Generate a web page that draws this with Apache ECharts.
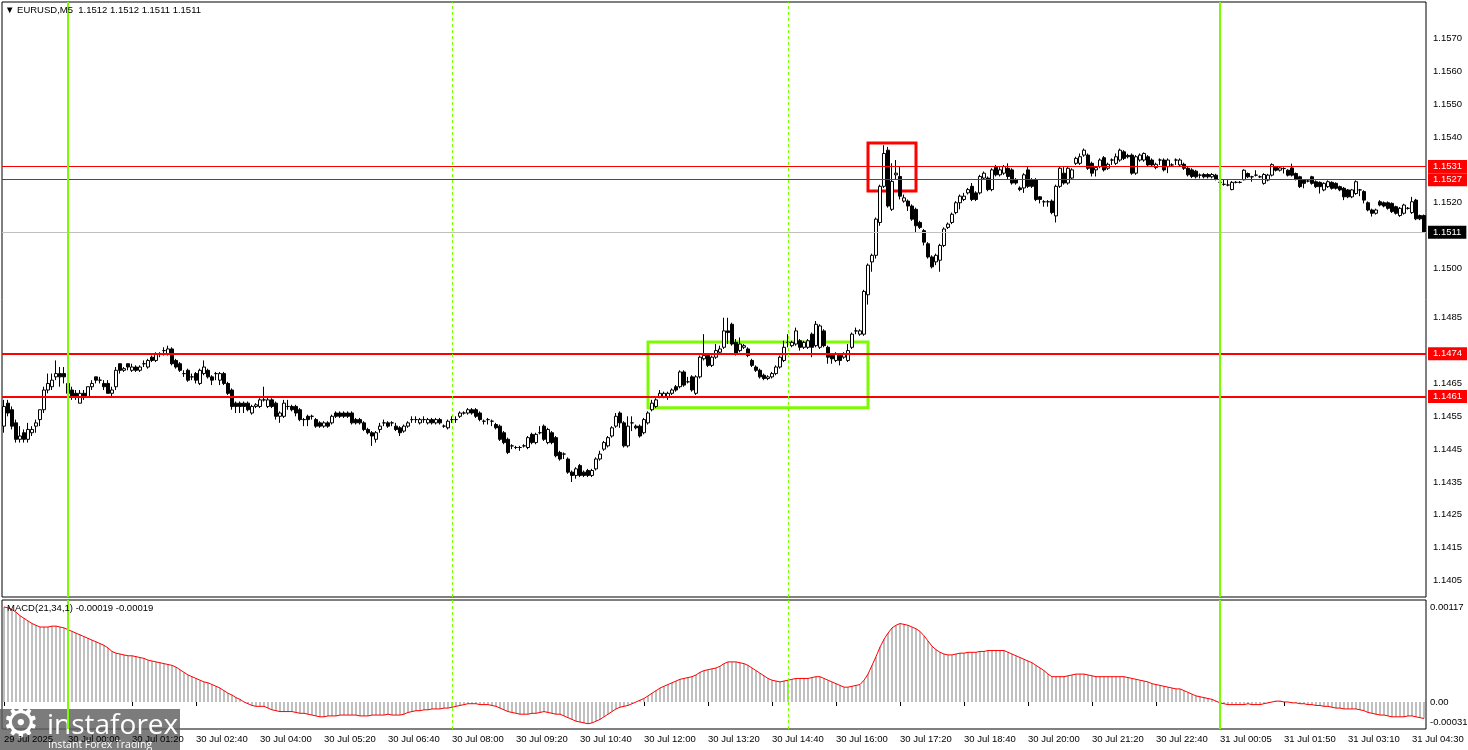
<!DOCTYPE html>
<html>
<head>
<meta charset="utf-8">
<title>EURUSD,M5</title>
<script src="https://cdn.jsdelivr.net/npm/echarts@6/dist/echarts.min.js"></script>
<style>
  html, body { margin: 0; padding: 0; background: #fff; }
  #chart { width: 1468px; height: 750px; }
</style>
</head>
<body>
<div id="chart"></div>
<script>
// EURUSD M5, 29 Jul 22:40 .. 31 Jul 04:45
// 每根K线: [open, close, low, high]
var candles = [
  // 0
  [1.1452,1.1458,1.1450,1.1460],[1.1459,1.1456,1.1455,1.1460],[1.1457,1.1452,1.1451,1.1458],[1.1453,1.1448,1.1447,1.1454],[1.1448,1.1449,1.1447,1.1452],
  [1.1450,1.1448,1.1447,1.1451],[1.1448,1.1451,1.1447,1.1453],[1.1450,1.1451,1.1449,1.1452],[1.1452,1.1453,1.1450,1.1454],[1.1454,1.1457,1.1452,1.1457],
  // 10
  [1.1457,1.1463,1.1456,1.1464],[1.1463,1.1465,1.1462,1.1468],[1.1464,1.1466,1.1463,1.1468],[1.1467,1.1468,1.1466,1.1472],[1.1468,1.1467,1.1464,1.1470],
  [1.1468,1.1467,1.1465,1.1470],[1.1465,1.1462,1.1460,1.1467],[1.1463,1.1461,1.1460,1.1464],[1.1462,1.1461,1.1460,1.1463],[1.1459,1.1462,1.1459,1.1463],
  // 20
  [1.1462,1.1461,1.1460,1.1463],[1.1461,1.1464,1.1461,1.1464],[1.1464,1.1465,1.1463,1.1466],[1.1467,1.1466,1.1465,1.1467],[1.1466,1.1466,1.1465,1.1467],
  [1.1465,1.1464,1.1463,1.1466],[1.1465,1.1462,1.1462,1.1466],[1.1462,1.1463,1.1461,1.1464],[1.1464,1.1469,1.1463,1.1470],[1.1471,1.1469,1.1468,1.1471],
  // 30
  [1.1469,1.14695,1.14685,1.1470],[1.1471,1.1470,1.1469,1.1471],[1.1469,1.1470,1.14685,1.1471],[1.1470,1.1469,1.14685,1.14705],[1.1469,1.1470,1.14685,1.14705],
  [1.1471,1.1471,1.1470,1.1472],[1.1470,1.1472,1.14695,1.14725],[1.1473,1.1472,1.14715,1.14735],[1.1472,1.1474,1.14715,1.14745],[1.1474,1.1474,1.1473,1.14745],
  // 40
  [1.1475,1.1475,1.14735,1.1476],[1.1474,1.14755,1.14735,1.14765],[1.14755,1.1471,1.14705,1.1476],[1.1472,1.1470,1.14695,1.14725],[1.1471,1.1469,1.14685,1.14715],
  [1.1468,1.1468,1.1467,1.1469],[1.1469,1.1466,1.14655,1.14695],[1.1467,1.1467,1.1466,1.1468],[1.1468,1.1466,1.1465,1.14685],[1.1465,1.1469,1.14645,1.14695],
  // 50
  [1.1468,1.1470,1.14675,1.1472],[1.1469,1.1467,1.14665,1.14695],[1.1467,1.1466,1.14645,1.14675],[1.1468,1.1468,1.1466,1.14685],[1.1466,1.1468,1.14645,1.14685],
  [1.1468,1.1465,1.14645,1.14685],[1.1465,1.1462,1.14615,1.14655],[1.1463,1.1458,1.1457,1.14635],[1.1459,1.1458,1.1456,1.14595],[1.1459,1.1458,1.1456,1.14595],
  // 60
  [1.1459,1.1458,1.1456,1.14595],[1.1459,1.1457,1.14565,1.14595],[1.1456,1.1458,1.14555,1.14585],[1.1458,1.14585,1.14575,1.1459],[1.1458,1.1460,1.14575,1.14605],
  [1.1460,1.1460,1.14595,1.1464],[1.1458,1.1460,1.14575,1.1461],[1.1460,1.1458,1.14575,1.14605],[1.1459,1.1455,1.1454,1.14595],[1.1455,1.1456,1.1453,1.14565],
  // 70
  [1.1455,1.1459,1.14545,1.1460],[1.1458,1.1458,1.1457,1.1460],[1.1458,1.1457,1.14565,1.14585],[1.1458,1.1456,1.1455,1.14585],[1.1457,1.1454,1.14535,1.14575],
  [1.1454,1.1454,1.1452,1.14545],[1.1455,1.1454,1.1452,1.14555],[1.1455,1.1455,1.1454,1.14555],[1.1454,1.1452,1.14515,1.14545],[1.1453,1.1452,1.14515,1.14535],
  // 80
  [1.1452,1.1453,1.14515,1.14535],[1.1453,1.1452,1.14515,1.14535],[1.1453,1.1455,1.14525,1.14555],[1.1456,1.1455,1.14545,1.14565],[1.1456,1.1455,1.14545,1.14565],
  [1.1456,1.1455,1.14545,1.14565],[1.1456,1.1455,1.14545,1.14565],[1.1456,1.1453,1.14525,1.14565],[1.1454,1.1453,1.14525,1.14545],[1.1454,1.1453,1.14525,1.14545],
  // 90
  [1.1453,1.1451,1.14505,1.14535],[1.1451,1.1450,1.14495,1.14515],[1.1450,1.1449,1.1446,1.14505],[1.1448,1.1450,1.1447,1.14505],[1.1451,1.1452,1.1450,1.1453],
  [1.1453,1.1453,1.1452,1.1454],[1.1453,1.1452,1.14515,1.14535],[1.1453,1.1453,1.1452,1.14535],[1.1452,1.1451,1.14505,1.1453],[1.14515,1.1450,1.1449,1.1452],
  // 100
  [1.14505,1.1452,1.1450,1.14525],[1.1452,1.1453,1.14515,1.14535],[1.1454,1.1454,1.1453,1.1455],[1.1454,1.1454,1.1453,1.1455],[1.1453,1.1454,1.14525,1.14545],
  [1.1454,1.1454,1.1453,1.1455],[1.1453,1.1454,1.14525,1.14545],[1.1454,1.1453,1.14525,1.14545],[1.1453,1.1454,1.14525,1.14545],[1.1454,1.1453,1.14525,1.14545],
  // 110
  [1.1452,1.1452,1.14515,1.14525],[1.14515,1.14535,1.1451,1.1454],[1.1454,1.1454,1.1453,1.1455],[1.1454,1.1454,1.1453,1.1455],[1.1455,1.1456,1.14545,1.14565],
  [1.1456,1.1456,1.14555,1.14565],[1.1456,1.1457,1.14555,1.14575],[1.1457,1.1456,1.14555,1.14575],[1.1457,1.1455,1.14545,1.14575],[1.1456,1.1454,1.14535,1.14565],
  // 120
  [1.14535,1.14535,1.14525,1.1454],[1.1454,1.1454,1.14525,1.14545],[1.14535,1.14535,1.1452,1.1454],[1.14525,1.14515,1.1451,1.1453],[1.1452,1.1448,1.14475,1.14525],
  [1.1450,1.1447,1.14465,1.14505],[1.1448,1.1444,1.14435,1.14485],[1.1446,1.1446,1.1445,1.14465],[1.14455,1.14455,1.1445,1.1446],[1.14455,1.14455,1.14445,1.1446],
  // 130
  [1.1446,1.1446,1.14455,1.14465],[1.14455,1.14485,1.1445,1.1449],[1.14495,1.1447,1.14465,1.1450],[1.1447,1.14495,1.14465,1.1450],[1.1450,1.1450,1.14495,1.1452],
  [1.1452,1.1448,1.14475,1.14525],[1.1447,1.1451,1.14465,1.14515],[1.1450,1.1447,1.14465,1.14505],[1.14485,1.1443,1.14425,1.1449],[1.1444,1.1442,1.14415,1.14445],
  // 140
  [1.14435,1.14435,1.1442,1.1444],[1.1442,1.1438,1.14375,1.14425],[1.1438,1.1437,1.1435,1.14385],[1.1437,1.1439,1.1436,1.14395],[1.1440,1.1437,1.14365,1.14405],
  [1.1438,1.1437,1.14365,1.14385],[1.14385,1.1437,1.14365,1.1439],[1.1437,1.14385,1.14365,1.1439],[1.1439,1.1442,1.14385,1.14425],[1.1442,1.14435,1.14415,1.14445],
  // 150
  [1.1445,1.1447,1.14445,1.14475],[1.1446,1.14485,1.14455,1.1449],[1.1449,1.14515,1.14485,1.1452],[1.1452,1.1455,1.14515,1.1456],[1.1456,1.1453,1.14515,1.14565],
  [1.1453,1.1446,1.14455,1.14535],[1.1446,1.1452,1.14455,1.1455],[1.1453,1.1453,1.14505,1.1455],[1.1452,1.14515,1.1451,1.14525],[1.1452,1.1449,1.14485,1.14525],
  // 160
  [1.1450,1.1454,1.14495,1.14545],[1.1453,1.1456,1.14525,1.14565],[1.1457,1.1459,1.14565,1.1460],[1.1458,1.1460,1.14575,1.14605],[1.1461,1.1462,1.14605,1.1463],
  [1.1461,1.1462,1.14605,1.14625],[1.1461,1.1462,1.1460,1.14625],[1.1462,1.1463,1.14615,1.14635],[1.1464,1.1463,1.14625,1.14645],[1.1464,1.14685,1.14635,1.1469],
  // 170
  [1.14685,1.14645,1.1464,1.1469],[1.14655,1.14655,1.1465,1.1467],[1.1467,1.1463,1.14625,1.14675],[1.1462,1.1467,1.14615,1.14675],[1.1467,1.1473,1.14665,1.14735],
  [1.14725,1.14735,1.1472,1.1480],[1.14735,1.14705,1.1470,1.1474],[1.14705,1.1473,1.1470,1.14735],[1.1473,1.1475,1.14725,1.1477],[1.14745,1.14755,1.1474,1.14765],
  // 180
  [1.1476,1.1481,1.14755,1.1485],[1.1481,1.14805,1.1477,1.1485],[1.1483,1.1477,1.14765,1.14835],[1.14775,1.1474,1.14735,1.14785],[1.1475,1.1477,1.14745,1.1479],
  [1.1476,1.14765,1.14755,1.1477],[1.14755,1.14735,1.1473,1.1476],[1.1472,1.14705,1.1470,1.14725],[1.1470,1.1469,1.14685,1.14705],[1.1469,1.1467,1.14665,1.14695],
  // 190
  [1.14675,1.14665,1.1466,1.1468],[1.14665,1.1467,1.1466,1.14675],[1.1467,1.1468,1.14665,1.14685],[1.1468,1.1470,1.14675,1.14705],[1.1470,1.1473,1.14695,1.14735],
  [1.1472,1.1476,1.14715,1.1478],[1.14775,1.14775,1.1476,1.1480],[1.14765,1.14775,1.1476,1.1478],[1.1477,1.1481,1.14765,1.1482],[1.1478,1.1476,1.1475,1.14785],
  // 200
  [1.1476,1.14775,1.14755,1.1478],[1.1476,1.1478,1.14755,1.14785],[1.1480,1.1476,1.1473,1.14805],[1.14765,1.1483,1.1476,1.1484],[1.1476,1.14825,1.14755,1.1483],
  [1.1481,1.14765,1.1476,1.14815],[1.1476,1.1473,1.1471,1.14765],[1.14735,1.14725,1.1471,1.1474],[1.1472,1.1474,1.14715,1.14745],[1.14735,1.1472,1.14705,1.1474],
  // 210
  [1.1473,1.1474,1.14725,1.14745],[1.1472,1.1475,1.14715,1.1477],[1.1476,1.1480,1.14755,1.14805],[1.1481,1.1481,1.1480,1.1482],[1.1480,1.1481,1.14795,1.14815],
  [1.1480,1.1493,1.14795,1.14935],[1.1492,1.1501,1.1489,1.15015],[1.1502,1.1504,1.1499,1.15045],[1.1504,1.1515,1.1503,1.15155],[1.1514,1.1525,1.1513,1.15255],
  // 220
  [1.1525,1.1535,1.15245,1.15375],[1.1536,1.1519,1.15185,1.1537],[1.1518,1.15265,1.15175,1.1532],[1.15285,1.1529,1.1527,1.1533],[1.1528,1.1522,1.1521,1.1531],
  [1.15205,1.15215,1.1520,1.15225],[1.15205,1.1519,1.15175,1.1521],[1.1519,1.1515,1.15145,1.15195],[1.1518,1.1513,1.1511,1.15185],[1.1514,1.15125,1.1512,1.15145],
  // 230
  [1.15115,1.1508,1.1507,1.1512],[1.15075,1.15035,1.1503,1.1508],[1.15035,1.15005,1.1500,1.1504],[1.1502,1.1504,1.1501,1.15045],[1.15025,1.1507,1.1499,1.15075],
  [1.1507,1.1512,1.15065,1.15125],[1.15125,1.15135,1.1512,1.1514],[1.1514,1.15165,1.15135,1.1517],[1.1517,1.1520,1.15165,1.15205],[1.1520,1.1522,1.1518,1.15225],
  // 240
  [1.1521,1.1522,1.15205,1.1523],[1.1523,1.1524,1.15225,1.15245],[1.1525,1.1521,1.15205,1.1526],[1.1523,1.1521,1.15205,1.15235],[1.1523,1.1528,1.15225,1.15285],
  [1.15275,1.1529,1.1527,1.15295],[1.15275,1.1524,1.15235,1.1528],[1.1524,1.1530,1.15235,1.15305],[1.1531,1.15285,1.1528,1.15315],[1.15285,1.1530,1.1528,1.1531],
  // 250
  [1.1529,1.1531,1.15285,1.15315],[1.15305,1.1528,1.1527,1.1532],[1.1530,1.1526,1.15255,1.15305],[1.1527,1.1526,1.15255,1.15275],[1.15245,1.1524,1.15235,1.1525],
  [1.15245,1.15285,1.1523,1.1529],[1.1530,1.1525,1.15245,1.1531],[1.1527,1.1525,1.15245,1.15275],[1.1527,1.1521,1.15205,1.15275],[1.15218,1.1521,1.15198,1.1522],
  // 260
  [1.15203,1.15203,1.15188,1.15208],[1.15203,1.15203,1.15188,1.15208],[1.15205,1.1517,1.15165,1.1521],[1.1516,1.1525,1.1514,1.15255],[1.1525,1.15305,1.15245,1.1531],
  [1.1529,1.1526,1.15255,1.1531],[1.1526,1.15305,1.15255,1.1531],[1.15275,1.1530,1.1527,1.15305],[1.1532,1.15335,1.15315,1.1534],[1.1532,1.1534,1.15315,1.1535],
  // 270
  [1.15345,1.1536,1.1534,1.15365],[1.15345,1.15305,1.1530,1.1535],[1.1532,1.1529,1.1528,1.15325],[1.1530,1.15307,1.1528,1.15312],[1.1531,1.1533,1.15305,1.15335],
  [1.15337,1.1530,1.15295,1.15342],[1.15305,1.15317,1.1530,1.15322],[1.1533,1.1533,1.15315,1.15335],[1.1532,1.1534,1.15315,1.1535],[1.1533,1.1536,1.15325,1.15365],
  // 280
  [1.15355,1.15335,1.1533,1.1536],[1.15344,1.1534,1.15335,1.15349],[1.15345,1.1529,1.15285,1.1535],[1.1529,1.1534,1.15285,1.15345],[1.1533,1.15345,1.15325,1.1535],
  [1.1533,1.1535,1.15325,1.15353],[1.1534,1.15315,1.1531,1.15345],[1.1533,1.15315,1.1531,1.15335],[1.15307,1.15317,1.15302,1.15322],[1.1533,1.1533,1.15315,1.15335],
  // 290
  [1.1533,1.1530,1.15295,1.15335],[1.1531,1.1533,1.1529,1.15335],[1.15315,1.15315,1.1531,1.1532],[1.1533,1.1533,1.15315,1.15335],[1.15315,1.1533,1.1531,1.15335],
  [1.15317,1.15305,1.1530,1.15322],[1.15305,1.15285,1.1528,1.1531],[1.1530,1.1528,1.15275,1.15305],[1.15296,1.15279,1.15274,1.1530],[1.15284,1.15284,1.15274,1.15289],
  // 300
  [1.15286,1.15279,1.15274,1.1529],[1.15286,1.15279,1.15274,1.1529],[1.15279,1.15286,1.15274,1.1529],[1.15284,1.15272,1.15268,1.15288],[1.15262,1.15262,1.15258,1.15275],
  [1.15256,1.15256,1.15252,1.1527],[1.15254,1.15254,1.1525,1.15269],[1.1524,1.15262,1.15238,1.15266],[1.15262,1.15262,1.15259,1.15266],[1.15262,1.15262,1.15259,1.15266],
  // 310
  [1.1527,1.15299,1.15268,1.15302],[1.15289,1.15279,1.15275,1.15292],[1.15279,1.15279,1.15264,1.15282],[1.15284,1.15284,1.1528,1.15299],[1.15279,1.15279,1.15275,1.15283],
  [1.15259,1.15286,1.15255,1.1529],[1.15269,1.15284,1.15265,1.15288],[1.15284,1.15316,1.1528,1.1532],[1.15309,1.15299,1.15295,1.15312],[1.15299,1.15306,1.15295,1.15309],
  // 320
  [1.15304,1.15304,1.15289,1.15308],[1.15299,1.15284,1.1528,1.15302],[1.15306,1.15284,1.1528,1.15319],[1.15289,1.15272,1.15268,1.15292],[1.15279,1.15249,1.15245,1.15282],
  [1.15269,1.15259,1.15244,1.15272],[1.15266,1.15266,1.15262,1.1527],[1.15279,1.15259,1.15255,1.15282],[1.15264,1.15249,1.15245,1.15268],[1.15262,1.15249,1.15228,1.15265],
  // 330
  [1.15239,1.15259,1.15235,1.15262],[1.15249,1.15264,1.15245,1.15268],[1.15262,1.15244,1.1524,1.15265],[1.15259,1.15244,1.1524,1.15262],[1.15249,1.15239,1.15235,1.15252],
  [1.15244,1.15218,1.15208,1.15248],[1.15239,1.15218,1.15214,1.15242],[1.15218,1.15239,1.15214,1.15242],[1.15228,1.15264,1.15224,1.15268],[1.15239,1.15239,1.1522,1.15242],
  // 340
  [1.15234,1.15208,1.15198,1.15238],[1.1520,1.15178,1.15174,1.15204],[1.15178,1.15168,1.15158,1.15182],[1.15168,1.15178,1.15164,1.15182],[1.15203,1.15193,1.15189,1.15208],
  [1.1520,1.1519,1.15186,1.15204],[1.1520,1.15183,1.15179,1.15204],[1.15198,1.15173,1.15169,1.15201],[1.15188,1.15168,1.15164,1.15191],[1.15161,1.15183,1.15157,1.15187],
  // 350
  [1.15168,1.15193,1.15164,1.15197],[1.15183,1.15183,1.15179,1.15187],[1.1517,1.15203,1.15166,1.15218],[1.15208,1.15151,1.15147,1.15212],[1.15161,1.15151,1.15147,1.15164],
  [1.15161,1.15111,1.15108,1.15164]
];

// MACD(21,34,1) 柱值
var macd = [
  0.00109,0.00108,0.00106,0.00103,0.00099,0.00096,0.00093,0.00090,0.00088,0.00086,
  0.00086,0.00086,0.00087,0.00087,0.00086,0.00085,0.00083,0.00081,0.00079,0.00077,
  0.00075,0.00073,0.00071,0.00069,0.00067,0.00065,0.00062,0.00058,0.00056,0.00055,
  0.00054,0.00053,0.00053,0.00052,0.00051,0.00050,0.00048,0.00047,0.00046,0.00045,
  0.00044,0.00043,0.00042,0.00040,0.00037,0.00034,0.00031,0.00029,0.00027,0.00025,
  0.00023,0.00022,0.00020,0.00018,0.00016,0.00013,0.00010,0.00008,0.00005,0.00003,
  0.00000,-0.00002,-0.00004,-0.00005,-0.00005,-0.00005,-0.00007,-0.00009,-0.00010,-0.00011,
  -0.00011,-0.00011,-0.00011,-0.00012,-0.00013,-0.00013,-0.00014,-0.00015,-0.00016,-0.00017,
  -0.00017,-0.00016,-0.00016,-0.00016,-0.00015,-0.00015,-0.00015,-0.00015,-0.00015,-0.00016,
  -0.00016,-0.00016,-0.00015,-0.00015,-0.00015,-0.00015,-0.00014,-0.00015,-0.00015,-0.00015,
  -0.00014,-0.00012,-0.00011,-0.00010,-0.00010,-0.00009,-0.00009,-0.00008,-0.00008,-0.00008,
  -0.00007,-0.00007,-0.00006,-0.00005,-0.00004,-0.00003,-0.00002,-0.00002,-0.00002,-0.00003,
  -0.00003,-0.00003,-0.00004,-0.00005,-0.00007,-0.00009,-0.00011,-0.00012,-0.00013,-0.00014,
  -0.00014,-0.00014,-0.00013,-0.00013,-0.00012,-0.00011,-0.00012,-0.00013,-0.00014,-0.00014,
  -0.00016,-0.00018,-0.00020,-0.00022,-0.00023,-0.00024,-0.00025,-0.00024,-0.00022,-0.00020,
  -0.00017,-0.00014,-0.00011,-0.00008,-0.00006,-0.00005,-0.00004,-0.00002,0.00000,0.00002,
  0.00004,0.00007,0.00010,0.00013,0.00016,0.00018,0.00020,0.00022,0.00024,0.00026,
  0.00027,0.00028,0.00029,0.00031,0.00034,0.00036,0.00037,0.00038,0.00039,0.00041,
  0.00044,0.00046,0.00046,0.00046,0.00045,0.00044,0.00042,0.00039,0.00036,0.00033,
  0.00030,0.00027,0.00025,0.00024,0.00023,0.00024,0.00025,0.00026,0.00027,0.00027,
  0.00027,0.00027,0.00028,0.00029,0.00029,0.00027,0.00025,0.00023,0.00021,0.00019,
  0.00017,0.00017,0.00018,0.00019,0.00020,0.00025,0.00032,0.00042,0.00052,0.00063,
  0.00072,0.00079,0.00085,0.00088,0.00090,0.00089,0.00088,0.00086,0.00084,0.00081,
  0.00076,0.00070,0.00064,0.00060,0.00057,0.00055,0.00054,0.00054,0.00055,0.00056,
  0.00056,0.00057,0.00057,0.00057,0.00058,0.00058,0.00059,0.00059,0.00059,0.00059,
  0.00059,0.00057,0.00055,0.00053,0.00051,0.00049,0.00047,0.00045,0.00042,0.00039,
  0.00036,0.00032,0.00029,0.00029,0.00029,0.00029,0.00030,0.00031,0.00032,0.00032,
  0.00032,0.00031,0.00030,0.00029,0.00029,0.00029,0.00029,0.00029,0.00029,0.00029,
  0.00029,0.00028,0.00027,0.00026,0.00025,0.00024,0.00023,0.00021,0.00020,0.00019,
  0.00018,0.00017,0.00016,0.00015,0.00015,0.00013,0.00011,0.00009,0.00007,0.00006,
  0.00005,0.00004,0.00003,0.00001,-0.00001,-0.00002,-0.00003,-0.00003,-0.00003,-0.00003,
  -0.00003,-0.00002,-0.00003,-0.00003,-0.00003,-0.00002,-0.00001,0.00000,0.00001,0.00001,
  0.00000,0.00000,-0.00001,-0.00001,-0.00002,-0.00002,-0.00003,-0.00003,-0.00004,-0.00004,
  -0.00005,-0.00005,-0.00006,-0.00007,-0.00007,-0.00008,-0.00008,-0.00008,-0.00008,-0.00009,
  -0.00010,-0.00012,-0.00013,-0.00014,-0.00015,-0.00015,-0.00016,-0.00017,-0.00017,-0.00017,
  -0.00017,-0.00016,-0.00016,-0.00017,-0.00018,-0.00019
];

// 时间轴标签, 每16根K线一个
var tickLabels = [
  "29 Jul 2025", "30 Jul 00:00", "30 Jul 01:20", "30 Jul 02:40", "30 Jul 04:00", "30 Jul 05:20",
  "30 Jul 06:40", "30 Jul 08:00", "30 Jul 09:20", "30 Jul 10:40", "30 Jul 12:00", "30 Jul 13:20",
  "30 Jul 14:40", "30 Jul 16:00", "30 Jul 17:20", "30 Jul 18:40", "30 Jul 20:00", "30 Jul 21:20",
  "30 Jul 22:40", "31 Jul 00:05", "31 Jul 01:50", "31 Jul 03:10", "31 Jul 04:30"
];
var tickStep = 16;

// 右侧价格刻度
var priceLabels = [1.1570, 1.1560, 1.1550, 1.1540, 1.1520, 1.1500, 1.1485,
                   1.1465, 1.1455, 1.1445, 1.1435, 1.1425, 1.1415, 1.1405];
var priceMin = 1.1400;
var priceMax = 1.15811;
var macdMin = -0.00031;
var macdMax = 0.00117;

// 水平价位线
var redLevels = [1.1531, 1.1527, 1.1474, 1.1461];
var redWidths = [1, 1, 2, 2];
var lastPrice = 1.1511;

// 竖线 (K线序号)
var dayLines = [16, 304];
var dashLines = [112, 196];

// 方框: [起始K线, 结束K线, 上沿, 下沿]
var greenBox = [161, 216, 1.14776, 1.14576];
var redBox = [216, 228, 1.15382, 1.15236];

var FONT = '"Liberation Sans", Arial, sans-serif';
var FS = 9.5;

var myChart = echarts.init(document.getElementById("chart"));

var cats = candles.map(function (c, i) { return String(i); });

var hLines = redLevels.map(function (v, k) {
  return {
    yAxis: v,
    lineStyle: { color: "#ff0000", width: redWidths[k], type: "solid", opacity: 1 },
    label: {
      show: true, position: "end", distance: 2, formatter: v.toFixed(4),
      color: "#fff", backgroundColor: "#ff0000", padding: [2, 5, 1, 5],
      fontSize: FS, fontFamily: FONT
    }
  };
});
hLines.push({
  yAxis: lastPrice,
  lineStyle: { color: "#c0c0c0", width: 1, type: "solid", opacity: 1 },
  label: {
    show: true, position: "end", distance: 2, formatter: lastPrice.toFixed(4),
    color: "#fff", backgroundColor: "#000", padding: [2, 5, 1, 5],
    fontSize: FS, fontFamily: FONT
  }
});

function vLines() {
  var arr = [];
  dayLines.forEach(function (i) {
    arr.push({ xAxis: i, lineStyle: { color: "#7cfc00", width: 2, type: "solid" }, label: { show: false } });
  });
  dashLines.forEach(function (i) {
    arr.push({ xAxis: i, lineStyle: { color: "#7cfc00", width: 1, type: [3, 3] }, label: { show: false } });
  });
  return arr;
}

function box(b, color) {
  return [{ xAxis: b[0], yAxis: b[2], itemStyle: { color: "rgba(0,0,0,0)", borderColor: color, borderWidth: 3 } },
          { xAxis: b[1], yAxis: b[3] }];
}

var option = {
  animation: false,
  backgroundColor: "#fff",
  title: [
    {
      text: "\u25BC EURUSD,M5  1.1512 1.1512 1.1511 1.1511",
      left: 5, top: 5, padding: 0,
      textStyle: { fontSize: FS, fontWeight: "normal", color: "#000", fontFamily: FONT }
    },
    {
      text: "MACD(21,34,1) -0.00019 -0.00019",
      left: 7, top: 603, padding: 0,
      textStyle: { fontSize: FS, fontWeight: "normal", color: "#000", fontFamily: FONT }
    }
  ],
  grid: [
    { left: 2, top: 2, width: 1424, height: 595, outerBoundsMode: "none", containLabel: false,
      show: true, borderColor: "#000", borderWidth: 1, backgroundColor: "#fff" },
    { left: 2, top: 600, width: 1424, height: 129, outerBoundsMode: "none", containLabel: false,
      show: true, borderColor: "#000", borderWidth: 1, backgroundColor: "#fff" }
  ],
  xAxis: [
    {
      type: "category", gridIndex: 0, data: cats, boundaryGap: true,
      axisLine: { show: false }, axisTick: { show: false }, axisLabel: { show: false }, splitLine: { show: false }
    },
    {
      type: "category", gridIndex: 1, data: cats, boundaryGap: true,
      axisLine: { show: false },
      axisTick: { show: true, interval: tickStep - 1, alignWithLabel: true, length: 4, lineStyle: { color: "#000" } },
      axisLabel: {
        interval: tickStep - 1, align: "left", margin: 5, color: "#000",
        fontSize: FS, fontFamily: FONT,
        formatter: function (v, idx) { return tickLabels[Math.round(idx / tickStep)] || ""; }
      },
      splitLine: { show: false }
    }
  ],
  yAxis: [
    {
      type: "value", gridIndex: 0, position: "right", scale: true,
      min: priceMin, max: priceMax, interval: 0.0005,
      axisLine: { show: false }, axisTick: { show: false }, splitLine: { show: false },
      axisLabel: {
        margin: 7, color: "#000", fontSize: FS, fontFamily: FONT,
        formatter: function (v) {
          for (var k = 0; k < priceLabels.length; k++) {
            if (Math.abs(priceLabels[k] - v) < 1e-6) return priceLabels[k].toFixed(4);
          }
          return "";
        }
      }
    },
    {
      type: "value", gridIndex: 1, position: "right",
      min: macdMin, max: macdMax, interval: 0.00001,
      axisLine: { show: false }, axisTick: { show: false }, splitLine: { show: false },
      axisLabel: {
        margin: 4, color: "#000", fontSize: FS, fontFamily: FONT,
        formatter: function (v) {
          var k = Math.round(v * 1e5);
          if (k === Math.round(macdMax * 1e5)) return "{t|" + macdMax.toFixed(5) + "}";
          if (k === 0) return "0.00";
          if (k === Math.round(macdMin * 1e5)) return "{b|" + macdMin.toFixed(5) + "}";
          return "";
        },
        rich: {
          t: { padding: [14, 0, 0, 0], fontSize: FS, color: "#000", fontFamily: FONT },
          b: { padding: [0, 0, 14, 0], fontSize: FS, color: "#000", fontFamily: FONT }
        }
      }
    }
  ],
  series: [
    {
      name: "EURUSD", type: "candlestick", xAxisIndex: 0, yAxisIndex: 0,
      data: candles, barWidth: 3,
      itemStyle: { color: "#fff", color0: "#000", borderColor: "#000", borderColor0: "#000", borderWidth: 1 },
      markLine: { silent: true, precision: 5, symbol: ["none", "none"], data: hLines.concat(vLines()) },
      markArea: { silent: true, data: [box(greenBox, "#7cfc00"), box(redBox, "#ff0000")] }
    },
    {
      name: "MACD", type: "bar", xAxisIndex: 1, yAxisIndex: 1,
      data: macd, barWidth: 2, itemStyle: { color: "#c0c0c0" },
      markLine: { silent: true, symbol: ["none", "none"], data: vLines() }
    },
    {
      name: "Signal", type: "line", xAxisIndex: 1, yAxisIndex: 1,
      data: macd, showSymbol: false, symbol: "none",
      lineStyle: { color: "#ff0000", width: 1 }
    }
  ],
  graphic: [
    {
      type: "group", left: 0, top: 705, z: 100,
      children: [
        { type: "rect", shape: { x: 0, y: 0, width: 180, height: 45 }, style: { fill: "rgba(95,95,95,0.82)" } },
        { type: "text", x: 2, y: -4, style: { text: "\u2699", font: '42px "DejaVu Sans"', fill: "#fff" } },
        { type: "text", x: 47, y: 3, style: { text: "instaforex", font: '28px "Open Sans"', fill: "#fff" } },
        { type: "text", x: 48, y: 31, style: { text: "Instant Forex Trading", font: '10.5px "Open Sans"', fill: "#fff" } }
      ]
    }
  ]
};

myChart.setOption(option);
window.addEventListener("resize", function () {
  myChart.resize();
});
</script>
</body>
</html>
